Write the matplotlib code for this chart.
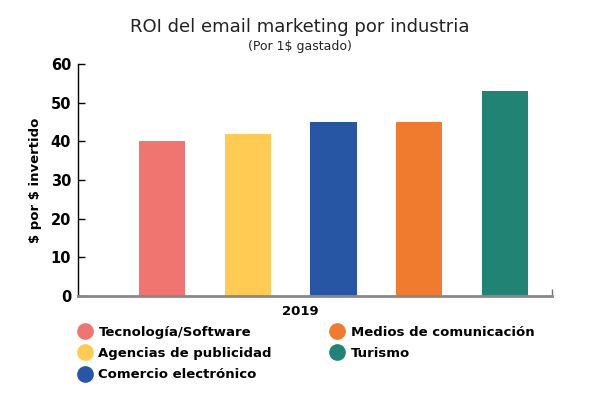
import matplotlib.pyplot as plt
import numpy as np

industries = [
    "Tecnología/Software",
    "Agencias de publicidad",
    "Comercio electrónico",
    "Medios de comunicación",
    "Turismo",
]
roi = [40, 42, 45, 45, 53]
colors = ["#F07571", "#FFCB52", "#2756A5", "#F07A2D", "#218373"]
year = "2019"
yticks = [0, 10, 20, 30, 40, 50, 60]

plt.rcParams["font.family"] = ["DejaVu Sans"]

fig = plt.figure(figsize=(6, 4), dpi=100)
ax = fig.add_axes([0.13, 0.26, 0.79, 0.58])

x = np.arange(len(roi))
handles = []
for i, (name, val, col) in enumerate(zip(industries, roi, colors)):
    ax.bar(x[i], val, width=0.54, color=col, label=name, zorder=2)
    handles.append(plt.Line2D([], [], marker="o", linestyle="", markersize=11,
                              markerfacecolor=col, markeredgecolor=col, label=name))

xmin, xmax = -0.98, 4.55
ax.set_xlim(xmin, xmax)
ax.set_ylim(0, 60)
ax.set_yticks(yticks)
ax.set_yticklabels([str(t) for t in yticks], fontweight="bold", fontsize=10.5)
ax.tick_params(axis="y", direction="in", length=5, width=1, color="black", pad=5)
ax.set_xticks([xmax])
ax.set_xticklabels([""])
ax.tick_params(axis="x", direction="in", length=5, width=1, color="#777777")

for side in ("top", "right"):
    ax.spines[side].set_visible(False)
ax.spines["left"].set_color("black")
ax.spines["left"].set_linewidth(1)
ax.spines["bottom"].set_color("#888888")
ax.spines["bottom"].set_linewidth(2)
ax.spines["bottom"].set_zorder(3)

ax.set_ylabel("\\$ por \\$ invertido", fontweight="bold", fontsize=9.5, labelpad=6)

fig.text(0.5, 0.932, "ROI del email marketing por industria", ha="center", va="center",
         fontsize=13, color="#222222")
fig.text(0.5, 0.884, "(Por 1\\$ gastado)", ha="center", va="center",
         fontsize=9, color="#222222")
fig.text(0.5, 0.222, year, ha="center", va="center", fontweight="bold", fontsize=9.5)

leg = fig.legend(handles=handles, ncol=2, loc="upper left", bbox_to_anchor=(0.108, 0.215),
                 frameon=False, handletextpad=0.45, columnspacing=4.35, labelspacing=0.62,
                 handlelength=1.2, prop={"weight": "bold", "size": 9.5})

fig.savefig("out.png", dpi=100)
